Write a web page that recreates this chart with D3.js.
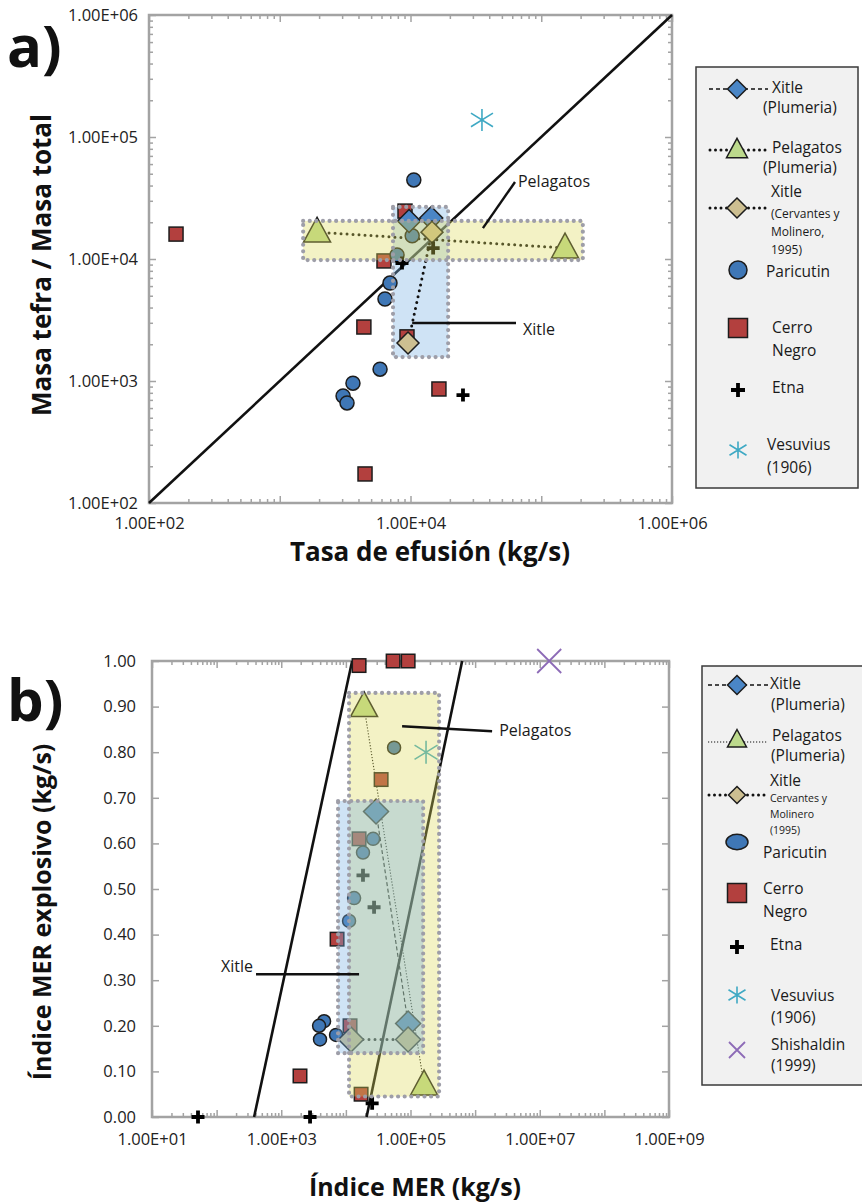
<!DOCTYPE html>
<html>
<head>
<meta charset="utf-8">
<script src="https://cdn.jsdelivr.net/npm/d3@7"></script>
<style>
  body { margin: 0; background: #fff; }
  text { font-family: "Open Sans", sans-serif; }
</style>
</head>
<body>
<svg id="fig" width="862" height="1202"></svg>
<script>
// ---------- Panel a: tephra / total mass vs effusion rate ----------
const xitlePlumeriaA  = [[9750, 20500], [14400, 21700]];
const pelagatosA      = [[1930, 16600], [152000, 12300]];
const xitleCervantesA = [[14600, 16600], [9570, 2050]];
const paricutinA = [[10600, 44500], [10300, 15500], [7890, 10800], [6970, 6350], [6380, 4700],
                    [5850, 1250], [3630, 960], [3050, 753], [3270, 661]];
const cerroNegroA = [[161, 16000], [4490, 173], [4400, 2770], [6270, 9640], [9080, 24700],
                     [9400, 2300], [16500, 860]];
const etnaA      = [[25200, 767], [14900, 12300], [8610, 9270]];
const vesuviusA  = [[35200, 138000]];
const oneToOneA  = [[1e2, 1e2], [1e6, 1e6]];
const xitleRangeA     = [7350, 19400, 1570, 26700];   // x0, x1, y0, y1
const pelagatosRangeA = [1510, 208000, 9800, 20500];
const xDecadesA = [2, 3, 4, 5, 6];
const yDecadesA = [2, 3, 4, 5, 6];

// ---------- Panel b: explosive MER index vs MER index ----------
const xitlePlumeriaB  = [[29300, 0.67], [91900, 0.205]];
const pelagatosB      = [[19100, 0.90], [162000, 0.07]];
const xitleCervantesB = [[12000, 0.17], [91900, 0.17]];
const paricutinB = [[55700, 0.81], [26400, 0.61], [18400, 0.58], [13400, 0.48], [11200, 0.43],
                    [4600, 0.21], [3850, 0.20], [3980, 0.17], [7050, 0.18]];
const cerroNegroB = [[16000, 0.99], [53800, 1.0], [91900, 1.0], [35100, 0.74], [16000, 0.61],
                     [7310, 0.39], [11600, 0.20], [1950, 0.09], [17200, 0.05]];
const etnaB       = [[18400, 0.53], [27300, 0.46], [25500, 0.03], [51.5, 0], [2790, 0]];
const vesuviusB   = [[174000, 0.80]];
const shishaldinB = [[1.4e7, 1.0]];
const limitLinesB = [[[380, 0], [12500, 1]], [[20900, 0], [630000, 1]]];
const xitleRangeB     = [7570, 157000, 0.14, 0.693];
const pelagatosRangeB = [11200, 277000, 0.045, 0.93];
const xDecadesB = [1, 2, 3, 4, 5, 6, 7, 8, 9];
const yTicksB = [0, 0.1, 0.2, 0.3, 0.4, 0.5, 0.6, 0.7, 0.8, 0.9, 1.0];

// ---------- styling ----------
const C = {
  blueDiamond: "#4a86c6", tanDiamond: "#cdbf91", triangle: "#bcd98c",
  circle: "#3f77b6", square: "#b3403e", vesuvius: "#3fa9c4", shishaldin: "#8d6bb7",
  axis: "#a3a3a3", yellow: "rgb(222,219,90)", blue: "rgb(117,174,226)", dots: "#9e9ea8"
};
const TICK_FS = 16.5;
const svg = d3.select("#fig");
const sci = e => "1.00E+" + String(e).padStart(2, "0");

function minorLog(decades) {
  const v = [];
  for (let i = 0; i < decades.length - 1; i++)
    for (let m = 2; m <= 9; m++) v.push(m * Math.pow(10, decades[i]));
  return v;
}

function styleAxis(g, fs) {
  g.select(".domain").remove();
  g.selectAll(".tick line").attr("stroke", C.axis).attr("stroke-width", 1.5);
  g.selectAll(".tick text").attr("font-size", fs).attr("fill", "#222")
    .attr("font-family", "Open Sans");
}

function frame(x, y, xMinor, xMajor, xFmt, yMinor, yMajor, yFmt, xPad, yPad) {
  const [x0, x1] = x.range(), [y0, y1] = y.range();
  const g = svg.append("g");
  const add = (axis, tx, ty) => g.append("g").attr("transform", `translate(${tx},${ty})`)
      .call(axis).call(s => styleAxis(s, TICK_FS));
  if (xMinor) {
    add(d3.axisBottom(x).tickValues(xMinor).tickSize(-4).tickFormat(""), 0, y0);
    add(d3.axisTop(x).tickValues(xMinor).tickSize(-4).tickFormat(""), 0, y1);
  }
  add(d3.axisBottom(x).tickValues(xMajor).tickSize(-7).tickPadding(xPad).tickFormat(xFmt), 0, y0);
  add(d3.axisTop(x).tickValues(xMajor).tickSize(-7).tickFormat(""), 0, y1);
  if (yMinor) {
    add(d3.axisLeft(y).tickValues(yMinor).tickSize(-4).tickFormat(""), x0, 0);
    add(d3.axisRight(y).tickValues(yMinor).tickSize(-4).tickFormat(""), x1, 0);
  }
  add(d3.axisLeft(y).tickValues(yMajor).tickSize(-7).tickPadding(yPad).tickFormat(yFmt), x0, 0);
  add(d3.axisRight(y).tickValues(yMajor).tickSize(-7).tickFormat(""), x1, 0);
  g.append("rect").attr("x", x0).attr("y", y1).attr("width", x1 - x0).attr("height", y0 - y1)
    .attr("fill", "none").attr("stroke", C.axis).attr("stroke-width", 2.5);
}

// marker shapes
function marker(g, type, px, py, s, color) {
  const k = "#1c1c1c";
  if (type === "circle") {
    g.append("circle").attr("cx", px).attr("cy", py).attr("r", s)
      .attr("fill", color).attr("stroke", k).attr("stroke-width", 1.5);
  } else if (type === "ellipse") {
    g.append("ellipse").attr("cx", px).attr("cy", py).attr("rx", s).attr("ry", s * 0.7)
      .attr("fill", color).attr("stroke", k).attr("stroke-width", 1.5);
  } else if (type === "square") {
    g.append("rect").attr("x", px - s / 2).attr("y", py - s / 2).attr("width", s).attr("height", s)
      .attr("fill", color).attr("stroke", k).attr("stroke-width", 1.5);
  } else if (type === "diamond") {
    const h = s / 2;
    g.append("path").attr("d", `M${px},${py - h}L${px + h},${py}L${px},${py + h}L${px - h},${py}Z`)
      .attr("fill", color).attr("stroke", k).attr("stroke-width", 1.5);
  } else if (type === "triangle") {
    const w = s / 2, h = s * 0.92;
    g.append("path").attr("d", `M${px},${py - h * 0.6}L${px + w},${py + h * 0.4}L${px - w},${py + h * 0.4}Z`)
      .attr("fill", color).attr("stroke", k).attr("stroke-width", 1.5).attr("stroke-linejoin", "miter");
  } else if (type === "plus") {
    const h = s / 2;
    g.append("path").attr("d", `M${px - h},${py}H${px + h}M${px},${py - h}V${py + h}`)
      .attr("stroke", "#000").attr("stroke-width", 3.8);
  } else if (type === "star") {
    const h = s / 2;
    g.append("path").attr("d", `M${px},${py - h}V${py + h}M${px - h},${py - h * 0.62}L${px + h},${py + h * 0.62}M${px - h},${py + h * 0.62}L${px + h},${py - h * 0.62}`)
      .attr("stroke", color).attr("stroke-width", 1.6).attr("fill", "none");
  } else if (type === "x") {
    const h = s / 2;
    g.append("path").attr("d", `M${px - h},${py - h}L${px + h},${py + h}M${px - h},${py + h}L${px + h},${py - h}`)
      .attr("stroke", color).attr("stroke-width", 1.8).attr("fill", "none");
  }
}
function series(g, data, x, y, type, s, color) {
  data.forEach(d => marker(g, type, x(d[0]), y(d[1]), s, color));
}
function link(g, data, x, y, dash, w, cap) {
  g.append("path").attr("d", d3.line().x(d => x(d[0])).y(d => y(d[1]))(data))
    .attr("fill", "none").attr("stroke", "#111").attr("stroke-width", w)
    .attr("stroke-dasharray", dash).attr("stroke-linecap", cap || "butt");
}
function rangeBox(g, r, x, y, fill, op, withFill, withDots) {
  const rx = x(r[0]), rw = x(r[1]) - x(r[0]), ry = y(r[3]), rh = y(r[2]) - y(r[3]);
  if (withFill) g.append("rect").attr("x", rx).attr("y", ry).attr("width", rw).attr("height", rh)
      .attr("fill", fill).attr("fill-opacity", op);
  if (withDots) g.append("rect").attr("x", rx).attr("y", ry).attr("width", rw).attr("height", rh)
      .attr("fill", "none").attr("stroke", C.dots).attr("stroke-width", 4.2)
      .attr("stroke-dasharray", "0 6.6").attr("stroke-linecap", "round");
}
function label(g, txt, px, py, fs, opts = {}) {
  return g.append("text").attr("x", px).attr("y", py).attr("font-size", fs)
    .attr("font-weight", opts.bold ? 700 : 400).attr("fill", opts.fill || "#1a1a1a")
    .attr("text-anchor", opts.anchor || "start")
    .attr("transform", opts.rotate ? `rotate(-90,${px},${py})` : null).text(txt);
}

// ================= Panel a =================
const xA = d3.scaleLog().domain([1e2, 1e6]).range([149, 672]);
const yA = d3.scaleLog().domain([1e2, 1e6]).range([503, 15]);
frame(xA, yA,
  minorLog(xDecadesA), xDecadesA.map(e => Math.pow(10, e)), d => { const e = Math.round(Math.log10(d)); return e % 2 === 0 ? sci(e) : ""; },
  minorLog(yDecadesA), yDecadesA.map(e => Math.pow(10, e)), d => sci(Math.round(Math.log10(d))),
  14, 11);

const gA = svg.append("g");
link(gA, oneToOneA, xA, yA, null, 2.6);
rangeBox(gA, xitleRangeA, xA, yA, C.blue, 0.35, true, false);
link(gA, pelagatosA, xA, yA, "0 6", 3, "round");
link(gA, xitleCervantesA, xA, yA, "0 6", 3, "round");
link(gA, xitlePlumeriaA, xA, yA, "4 3", 1.3);
series(gA, cerroNegroA, xA, yA, "square", 14, C.square);
series(gA, paricutinA, xA, yA, "circle", 7, C.circle);
series(gA, pelagatosA, xA, yA, "triangle", 27, C.triangle);
series(gA, xitlePlumeriaA, xA, yA, "diamond", 23, C.blueDiamond);
series(gA, xitleCervantesA, xA, yA, "diamond", 22, C.tanDiamond);
series(gA, etnaA, xA, yA, "plus", 13, "#000");
series(gA, vesuviusA, xA, yA, "star", 22, C.vesuvius);
rangeBox(gA, pelagatosRangeA, xA, yA, C.yellow, 0.35, true, false);
rangeBox(gA, xitleRangeA, xA, yA, null, 0, false, true);
rangeBox(gA, pelagatosRangeA, xA, yA, null, 0, false, true);

// annotations
gA.append("path").attr("d", d3.line()([[xA(63000), yA(42800)], [xA(35800), yA(17900)]]))
  .attr("stroke", "#111").attr("stroke-width", 2.4);
label(gA, "Pelagatos", xA(66400), yA(38900), 16);
gA.append("path").attr("d", d3.line()([[xA(10300), yA(2990)], [xA(64100), yA(2990)]]))
  .attr("stroke", "#111").attr("stroke-width", 2.4);
label(gA, "Xitle", xA(72400), yA(2380), 16);

label(svg, "a)", 7, 67, 58, { bold: true, fill: "#111" });
label(svg, "Masa tefra / Masa total", 51, 265, 26, { bold: true, rotate: true, anchor: "middle", fill: "#111" });
label(svg, "Tasa de efusión (kg/s)", 430, 561, 26, { bold: true, anchor: "middle", fill: "#111" });

// legend a
const lA = svg.append("g");
lA.append("rect").attr("x", 696).attr("y", 67).attr("width", 162).attr("height", 421)
  .attr("fill", "#f1f1f1").attr("stroke", "#3a3a3a").attr("stroke-width", 1.5);
lA.append("path").attr("d", "M709,89H768").attr("stroke", "#111").attr("stroke-width", 1.5).attr("stroke-dasharray", "4 3");
marker(lA, "diamond", 737, 89, 19, C.blueDiamond);
lA.append("path").attr("d", "M710,150H766").attr("stroke", "#111").attr("stroke-width", 3).attr("stroke-dasharray", "0 5.5").attr("stroke-linecap", "round");
marker(lA, "triangle", 737, 150, 21, C.triangle);
lA.append("path").attr("d", "M710,208H766").attr("stroke", "#111").attr("stroke-width", 3).attr("stroke-dasharray", "0 5.5").attr("stroke-linecap", "round");
marker(lA, "diamond", 737, 208, 20, C.tanDiamond);
marker(lA, "circle", 738, 270, 9, C.circle);
marker(lA, "square", 738, 328, 19, C.square);
marker(lA, "plus", 738, 390, 14, "#000");
marker(lA, "star", 738, 450, 17, C.vesuvius);
[["Xitle", 772, 93, 15.5], ["(Plumeria)", 763, 113, 15.5], ["Pelagatos", 772, 153, 15.5], ["(Plumeria)", 763, 173, 15.5],
 ["Xitle", 771, 197, 15.5], ["(Cervantes y", 771, 218, 12], ["Molinero,", 771, 236, 12], ["1995)", 771, 254, 12],
 ["Paricutin", 766, 277, 15.5], ["Cerro", 772, 333, 15.5], ["Negro", 772, 356, 15.5], ["Etna", 772, 393, 15.5],
 ["Vesuvius", 767, 450, 15.5], ["(1906)", 767, 473, 15.5]]
  .forEach(t => label(lA, t[0], t[1], t[2], t[3]));

// ================= Panel b =================
const xB = d3.scaleLog().domain([1e1, 1e9]).range([152, 669]);
const yB = d3.scaleLinear().domain([0, 1]).range([1117, 661]);
frame(xB, yB,
  minorLog(xDecadesB), xDecadesB.map(e => Math.pow(10, e)), d => { const e = Math.round(Math.log10(d)); return e % 2 === 1 ? sci(e) : ""; },
  null, yTicksB, d3.format(".2f"),
  16, 16);

const gB = svg.append("g");
limitLinesB.forEach(l => link(gB, l, xB, yB, null, 2.6));
link(gB, pelagatosB, xB, yB, "1.2 1.8", 1.1);
link(gB, xitlePlumeriaB, xB, yB, "4 2.5", 1.2);
link(gB, xitleCervantesB, xB, yB, "0 6", 3, "round");
series(gB, cerroNegroB, xB, yB, "square", 13.5, C.square);
series(gB, paricutinB, xB, yB, "circle", 6.5, C.circle);
series(gB, xitlePlumeriaB, xB, yB, "diamond", 25, C.blueDiamond);
series(gB, xitleCervantesB, xB, yB, "diamond", 25, C.tanDiamond);
series(gB, pelagatosB, xB, yB, "triangle", 27, C.triangle);
series(gB, etnaB, xB, yB, "plus", 13, "#000");
series(gB, vesuviusB, xB, yB, "star", 23, C.vesuvius);
series(gB, shishaldinB, xB, yB, "x", 24, C.shishaldin);
rangeBox(gB, pelagatosRangeB, xB, yB, C.yellow, 0.35, true, false);
rangeBox(gB, xitleRangeB, xB, yB, C.blue, 0.35, true, false);
rangeBox(gB, pelagatosRangeB, xB, yB, null, 0, false, true);
rangeBox(gB, xitleRangeB, xB, yB, null, 0, false, true);

gB.append("path").attr("d", d3.line()([[xB(74100), yB(0.857)], [xB(1.83e6), yB(0.846)]]))
  .attr("stroke", "#111").attr("stroke-width", 2.4);
label(gB, "Pelagatos", xB(2.36e6), yB(0.836), 16);
gB.append("path").attr("d", d3.line()([[xB(407), yB(0.313)], [xB(16000), yB(0.313)]]))
  .attr("stroke", "#111").attr("stroke-width", 2.4);
label(gB, "Xitle", xB(366), yB(0.318), 16, { anchor: "end" });

label(svg, "b)", 7, 721, 58, { bold: true, fill: "#111" });
label(svg, "Índice MER explosivo (kg/s)", 51, 912, 25, { bold: true, rotate: true, anchor: "middle", fill: "#111" });
label(svg, "Índice MER (kg/s)", 415, 1196, 25, { bold: true, anchor: "middle", fill: "#111" });

// legend b
const lB = svg.append("g");
lB.append("rect").attr("x", 702).attr("y", 666).attr("width", 170).attr("height", 419)
  .attr("fill", "#f1f1f1").attr("stroke", "#3a3a3a").attr("stroke-width", 1.5);
lB.append("path").attr("d", "M708,685H768").attr("stroke", "#111").attr("stroke-width", 1.5).attr("stroke-dasharray", "4 3");
marker(lB, "diamond", 737, 685, 19, C.blueDiamond);
lB.append("path").attr("d", "M708,742H768").attr("stroke", "#111").attr("stroke-width", 1.1).attr("stroke-dasharray", "1.2 1.8");
marker(lB, "triangle", 737, 740, 19, C.triangle);
lB.append("path").attr("d", "M709,795H766").attr("stroke", "#111").attr("stroke-width", 3).attr("stroke-dasharray", "0 5.5").attr("stroke-linecap", "round");
marker(lB, "diamond", 737, 795, 17, C.tanDiamond);
marker(lB, "ellipse", 737, 842, 11, C.circle);
marker(lB, "square", 737, 893, 19, C.square);
marker(lB, "plus", 737, 947, 14, "#000");
marker(lB, "star", 737, 995, 17, C.vesuvius);
marker(lB, "x", 737, 1050, 16, C.shishaldin);
[["Xitle", 770, 689, 15.5], ["(Plumeria)", 771, 710, 15.5], ["Pelagatos", 772, 741, 15.5], ["(Plumeria)", 771, 761, 15.5],
 ["Xitle", 770, 786, 15.5], ["Cervantes y", 770, 802, 10.5], ["Molinero", 770, 818, 10.5], ["(1995)", 770, 834, 10.5],
 ["Paricutin", 763, 858, 15.5], ["Cerro", 763, 894, 15.5], ["Negro", 763, 917, 15.5], ["Etna", 770, 950, 15.5],
 ["Vesuvius", 771, 1001, 15.5], ["(1906)", 771, 1023, 15.5], ["Shishaldin", 771, 1050, 15.5], ["(1999)", 771, 1071, 15.5]]
  .forEach(t => label(lB, t[0], t[1], t[2], t[3]));
</script>
</body>
</html>
